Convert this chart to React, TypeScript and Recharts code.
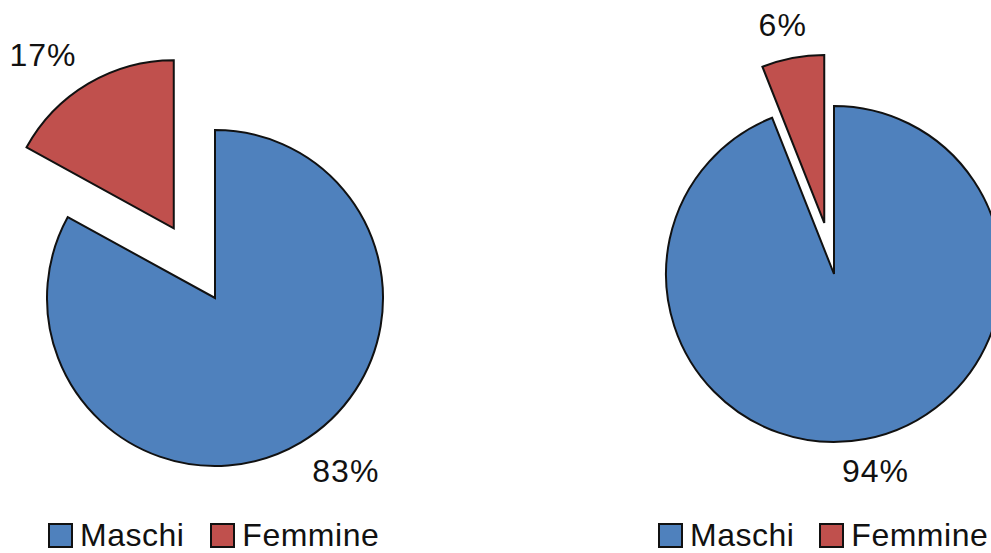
import React from 'react';
import { PieChart, Pie, Cell } from 'recharts';

const CATEGORIES = ['Maschi', 'Femmine'];
const LEFT_VALUES = [83, 17];
const RIGHT_VALUES = [94, 6];
const COLORS = ['#4F81BD', '#C0504D'];

const START = 90;
const END = -270;
const R = 168;
const FONT = '"Liberation Sans", Arial, Helvetica, sans-serif';

const toData = (values: number[]) => CATEGORIES.map((name, i) => ({ name, value: values[i] }));

// centre of the pulled-out slice, along its mid angle
const explodedCenter = (values: number[], idx: number, cx: number, cy: number, dist: number) => {
  const total = values.reduce((a, b) => a + b, 0);
  const before = values.slice(0, idx).reduce((a, b) => a + b, 0);
  const mid = START + ((before + values[idx] / 2) / total) * (END - START);
  const rad = (mid * Math.PI) / 180;
  return { cx: cx + dist * Math.cos(rad), cy: cy - dist * Math.sin(rad) };
};

const makeLabel = (visibleIdx: number) => (props: any) => {
  const { cx, cy, midAngle, outerRadius, index, value } = props;
  if (index !== visibleIdx) return null;
  const rad = (midAngle * Math.PI) / 180;
  const c = Math.cos(rad);
  const s = Math.sin(rad);
  const rr = outerRadius + 33;
  // push side labels further out horizontally, like Excel's outside-end labels
  const x = cx + rr * c + 110 * c * Math.abs(c);
  const y = cy - rr * s;
  return (
    <text
      x={x}
      y={y}
      textAnchor="middle"
      dominantBaseline="central"
      fill="#111"
      fontSize={32}
      letterSpacing={1}
      fontFamily={FONT}
    >
      {`${value}%`}
    </text>
  );
};

type PieSetProps = { values: number[]; cx: number; cy: number; explode: number; id: string };

const pieSet = ({ values, cx, cy, explode, id }: PieSetProps) => {
  const data = toData(values);
  const ex = explodedCenter(values, 1, cx, cy, explode);
  return [
    <Pie
      key={id + 'main'}
      data={data}
      dataKey="value"
      nameKey="name"
      cx={cx}
      cy={cy}
      outerRadius={R}
      startAngle={START}
      endAngle={END}
      isAnimationActive={false}
      labelLine={false}
      label={makeLabel(0)}
    >
      <Cell fill={COLORS[0]} stroke="#111" strokeWidth={2} />
      <Cell fill="none" stroke="none" />
    </Pie>,
    <Pie
      key={id + 'ex'}
      data={data}
      dataKey="value"
      nameKey="name"
      cx={ex.cx}
      cy={ex.cy}
      outerRadius={R}
      startAngle={START}
      endAngle={END}
      isAnimationActive={false}
      labelLine={false}
      label={makeLabel(1)}
    >
      <Cell fill="none" stroke="none" />
      <Cell fill={COLORS[1]} stroke="#111" strokeWidth={2} />
    </Pie>,
  ];
};

const LegendRow = ({ left, gap }: { left: number; gap: number }) => (
  <div
    style={{
      position: 'absolute',
      left,
      top: 519,
      display: 'flex',
      alignItems: 'center',
      fontFamily: FONT,
      fontSize: 32,
      letterSpacing: 0.5,
      color: '#111',
      lineHeight: '33px',
      whiteSpace: 'nowrap',
    }}
  >
    {CATEGORIES.map((name, i) => (
      <div key={name} style={{ display: 'flex', alignItems: 'center', marginRight: i === 0 ? gap : 0 }}>
        <span
          style={{
            display: 'inline-block',
            width: 21,
            height: 21,
            background: COLORS[i],
            border: '2px solid #111',
            marginRight: 7,
          }}
        />
        <span>{name}</span>
      </div>
    ))}
  </div>
);

export default function App() {
  return (
    <div style={{ position: 'absolute', left: 0, top: 0, width: 991, height: 553, overflow: 'hidden', background: '#fff' }}>
      <PieChart width={991} height={553} margin={{ top: 0, right: 0, bottom: 0, left: 0 }}>
        {pieSet({ values: LEFT_VALUES, cx: 215, cy: 298, explode: 81, id: 'l' })}
        {pieSet({ values: RIGHT_VALUES, cx: 834, cy: 274, explode: 52, id: 'r' })}
      </PieChart>
      <LegendRow left={48} gap={26} />
      <LegendRow left={658} gap={25} />
    </div>
  );
}
